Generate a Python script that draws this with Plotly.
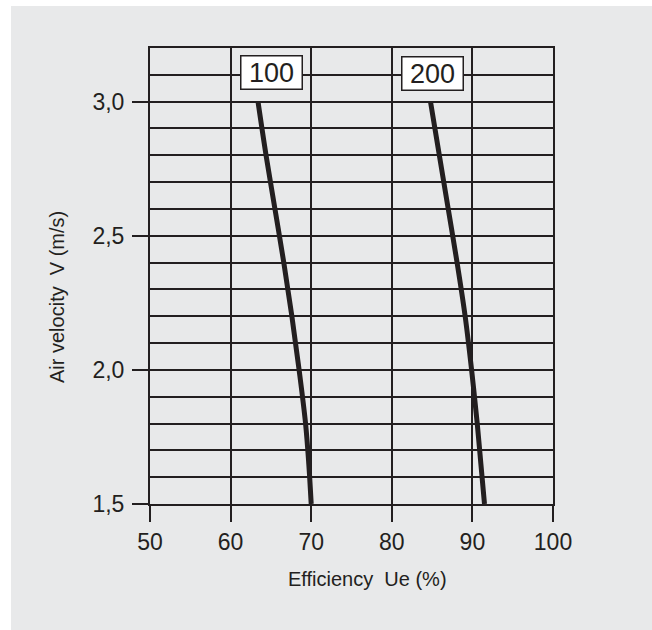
import plotly.graph_objects as go

# Data
velocity = [3.0, 2.8, 2.6, 2.4, 2.2, 2.0, 1.8, 1.65, 1.5]
eff_100 = [63.4, 64.4, 65.5, 66.6, 67.6, 68.5, 69.3, 69.7, 70.0]
eff_200 = [84.8, 85.9, 87.0, 88.1, 89.1, 89.9, 90.6, 91.05, 91.5]
series_labels = ["100", "200"]
label_pos_x = [65.1, 85.0]
label_pos_y = [3.11, 3.106]
x_ticks = [50, 60, 70, 80, 90, 100]
y_ticks = [1.5, 2.0, 2.5, 3.0]
y_ticktext = ["1,5", "2,0", "2,5", "3,0"]

INK = "#231f20"
BG = "#e8e9ea"
FONT = "Liberation Sans, Arial, sans-serif"

fig = go.Figure()
for xs in (eff_100, eff_200):
    fig.add_trace(go.Scatter(x=xs, y=velocity, mode="lines",
                             line=dict(color=INK, width=5, shape="spline", smoothing=1.0),
                             showlegend=False, hoverinfo="skip"))

for lab, lx, ly in zip(series_labels, label_pos_x, label_pos_y):
    fig.add_annotation(x=lx, y=ly, xref="x", yref="y", text=lab, showarrow=False,
                       font=dict(family=FONT, size=27, color=INK),
                       bgcolor="white", bordercolor=INK, borderwidth=1.5,
                       borderpad=1, width=58, height=30)

W, H = 652, 630
L, R, T, B = 150, 99, 48, 126
pw, ph = W - L - R, H - T - B

def px_to_paper_x(px):
    return (px - L) / pw

def px_to_paper_y(py):
    return (H - B - py) / ph

# white strips at top and left edges
fig.add_shape(type="rect", xref="paper", yref="paper", layer="below",
              x0=px_to_paper_x(0), x1=px_to_paper_x(W), y0=px_to_paper_y(6), y1=px_to_paper_y(-5),
              fillcolor="white", line=dict(width=0))
fig.add_shape(type="rect", xref="paper", yref="paper", layer="below",
              x0=px_to_paper_x(-5), x1=px_to_paper_x(11), y0=px_to_paper_y(H + 5), y1=px_to_paper_y(-5),
              fillcolor="white", line=dict(width=0))

# axis titles
fig.add_annotation(x=px_to_paper_x(367), y=px_to_paper_y(579), xref="paper", yref="paper",
                   xanchor="center", yanchor="middle",
                   text="Efficiency\u00a0 Ue (%)", showarrow=False,
                   font=dict(family=FONT, size=20, color=INK))
fig.add_annotation(x=px_to_paper_x(57), y=px_to_paper_y(297), xref="paper", yref="paper",
                   xanchor="center", yanchor="middle",
                   text="Air velocity\u00a0 V (m/s)", showarrow=False, textangle=-90,
                   font=dict(family=FONT, size=20, color=INK))

fig.update_layout(
    width=W, height=H,
    margin=dict(l=L, r=R, t=T, b=B),
    paper_bgcolor=BG, plot_bgcolor=BG,
    font=dict(family=FONT, color=INK),
    xaxis=dict(range=[50, 100], tickvals=x_ticks, ticks="outside", ticklen=16,
               tickwidth=2, tickcolor=INK, showgrid=True, gridcolor=INK, gridwidth=2,
               showline=True, linecolor=INK, linewidth=2, mirror=True, zeroline=False,
               tickfont=dict(size=23, family=FONT, color=INK)),
    yaxis=dict(range=[1.5, 3.2], tickvals=y_ticks, ticktext=y_ticktext, ticks="outside",
               ticklen=16, tickwidth=2, tickcolor=INK, showgrid=True, gridcolor=INK,
               gridwidth=2, showline=True, linecolor=INK, linewidth=2, mirror=True,
               zeroline=False, tickfont=dict(size=23, family=FONT, color=INK),
               ticklabelstandoff=3,
               minor=dict(tick0=1.5, dtick=0.1, showgrid=True, gridcolor=INK, gridwidth=2,
                          ticks="")),
)

fig.write_html("out.html")
